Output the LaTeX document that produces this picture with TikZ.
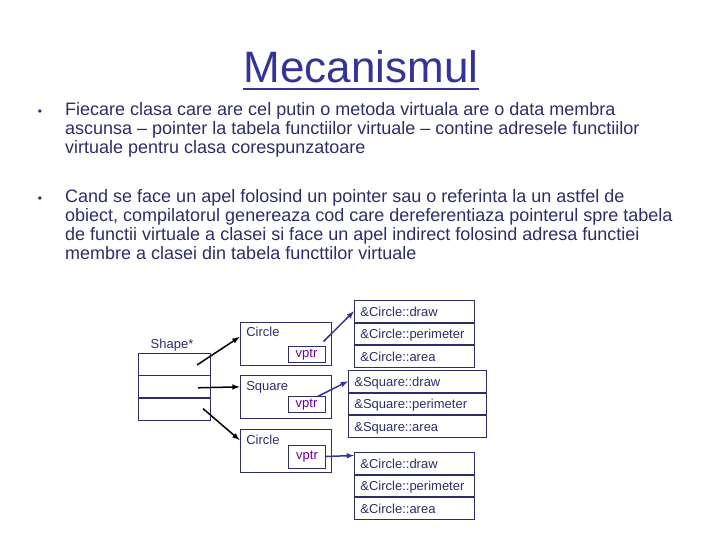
\documentclass[tikz,border=0pt]{standalone}
\usepackage{fontspec}
\setmainfont{Liberation Sans}
\usepackage{tikz}
\usetikzlibrary{positioning, arrows, calc}
\definecolor{slide-navy}{RGB}{45,45,105}
\definecolor{slide-blue}{RGB}{51,51,153}
\definecolor{slide-purple}{RGB}{102,0,153}

\begin{document}
\begin{tikzpicture}[x=1pt, y=-1pt, node distance=0pt,
	txt/.style={font=\fontsize{18}{19}\selectfont, text=slide-navy, inner sep=0pt, align=left},
	small/.style={font=\fontsize{13}{15}\selectfont, text=slide-navy},
	cell/.style={draw=slide-navy, line width=0.8pt, minimum width=72pt, minimum height=22pt, inner sep=0pt},
	obj/.style={draw=slide-navy, line width=0.8pt, minimum width=91pt, minimum height=43pt, inner sep=0pt},
	ptr/.style={draw=slide-navy, line width=0.8pt, small, text=slide-purple, minimum width=37pt, inner sep=0pt,
		execute at begin node=\strut},
	slot/.style={draw=slide-navy, line width=0.8pt, small, text width=#1, align=left, inner xsep=6pt, inner ysep=0pt,
		minimum height=21.7pt, execute at begin node={\rule[-2.5pt]{0pt}{15pt}}},
	link/.style={-latex, line width=1.5pt}]
						\useasboundingbox (0,0) rectangle (720,540);
						\node[txt, font=\fontsize{44}{48}\selectfont, text=slide-blue, anchor=base] (title) at (361,83) {Mecanismul};
						\node[txt, font=\fontsize{12}{12}\selectfont, anchor=base] (b1) at (40,116) {\textbullet};
						\node[txt, font=\fontsize{12}{12}\selectfont, anchor=base] (b2) at (40,203) {\textbullet};
						\node[txt, anchor=north west] (p1) at (65,102) {Fiecare clasa care are cel putin o metoda virtuala are o data membra\\
							ascunsa – pointer la tabela functiilor virtuale – contine adresele functiilor\\
							virtuale pentru clasa corespunzatoare};
						\node[txt, anchor=north west] (p2) at (65,189) {Cand se face un apel folosind un pointer sau o referinta la un astfel de\\
							obiect, compilatorul genereaza cod care dereferentiaza pointerul spre tabela\\
							de functii virtuale a clasei si face un apel indirect folosind adresa functiei\\
							membre a clasei din tabela functtilor virtuale};
						\node[small, anchor=base, inner sep=0pt] (shape) at (172,348) {Shape*};
						\node[cell] (s1) at (174,364) {};
						\node[cell, below =of s1] (s2) {};
						\node[cell, below =of s2] (s3) {};
						\node[obj] (c1) at (285.5,343.5) {};
						\node[obj] (sq) at (285.5,396.5) {};
						\node[obj] (c2) at (285.5,451) {};
						\node[small, anchor=base west, inner sep=0pt] (c1name) at ($(c1.north west)+(6.5,15)$) {Circle};
						\node[small, anchor=base west, inner sep=0pt] (sqname) at ($(sq.north west)+(6.5,15.5)$) {Square};
						\node[small, anchor=base west, inner sep=0pt] (c2name) at ($(c2.north west)+(6.5,15.5)$) {Circle};
						\node[ptr, minimum height=16pt] (v1) at (306.5,354) {vptr};
						\node[ptr, minimum height=16pt] (v2) at (306.5,404) {vptr};
						\node[ptr, minimum height=23pt] (v3) at (307,456.5) {vptr};
						\node[slot=108pt, anchor=north west] (cd1) at (354,300) {\&Circle::draw};
						\node[slot=108pt, below =of cd1] (cp1) {\&Circle::perimeter};
						\node[slot=108pt, below =of cp1] (ca1) {\&Circle::area};
						\node[slot=126pt, anchor=north west] (sd) at (348,370) {\&Square::draw};
						\node[slot=126pt, below =of sd] (sp) {\&Square::perimeter};
						\node[slot=126pt, below =of sp] (sa) {\&Square::area};
						\node[slot=108pt, anchor=north west] (cd2) at (354,452) {\&Circle::draw};
						\node[slot=108pt, below =of cd2] (cp2) {\&Circle::perimeter};
						\node[slot=108pt, below =of cp2] (ca2) {\&Circle::area};
						\draw[slide-blue, line width=2.2pt] ($(title.base west)+(0,6)$) -- ($(title.base east)+(0,6)$);
						\draw[link] ($(s1.center)+(23,1)$) -- ($(c1.north west)!0.35!(c1.south west)$);
						\draw[link] ($(s2.center)+(24,1)$) -- ($(sq.north west)!0.28!(sq.south west)$);
						\draw[link] ($(s3.center)+(29,-1)$) -- ($(c2.north west)!0.25!(c2.south west)$);
						\draw[link, slide-blue] ($(v1.north east)+(-2,-4)$) -- (cd1.west);
						\draw[link, slide-blue] ($(v2.north east)+(-8,1)$) -- (sd.west);
						\draw[link, slide-blue] (v3.east) -- ($(v3.east -| cd2.west)+(0,-1)$);
					\end{tikzpicture}
\end{document}
